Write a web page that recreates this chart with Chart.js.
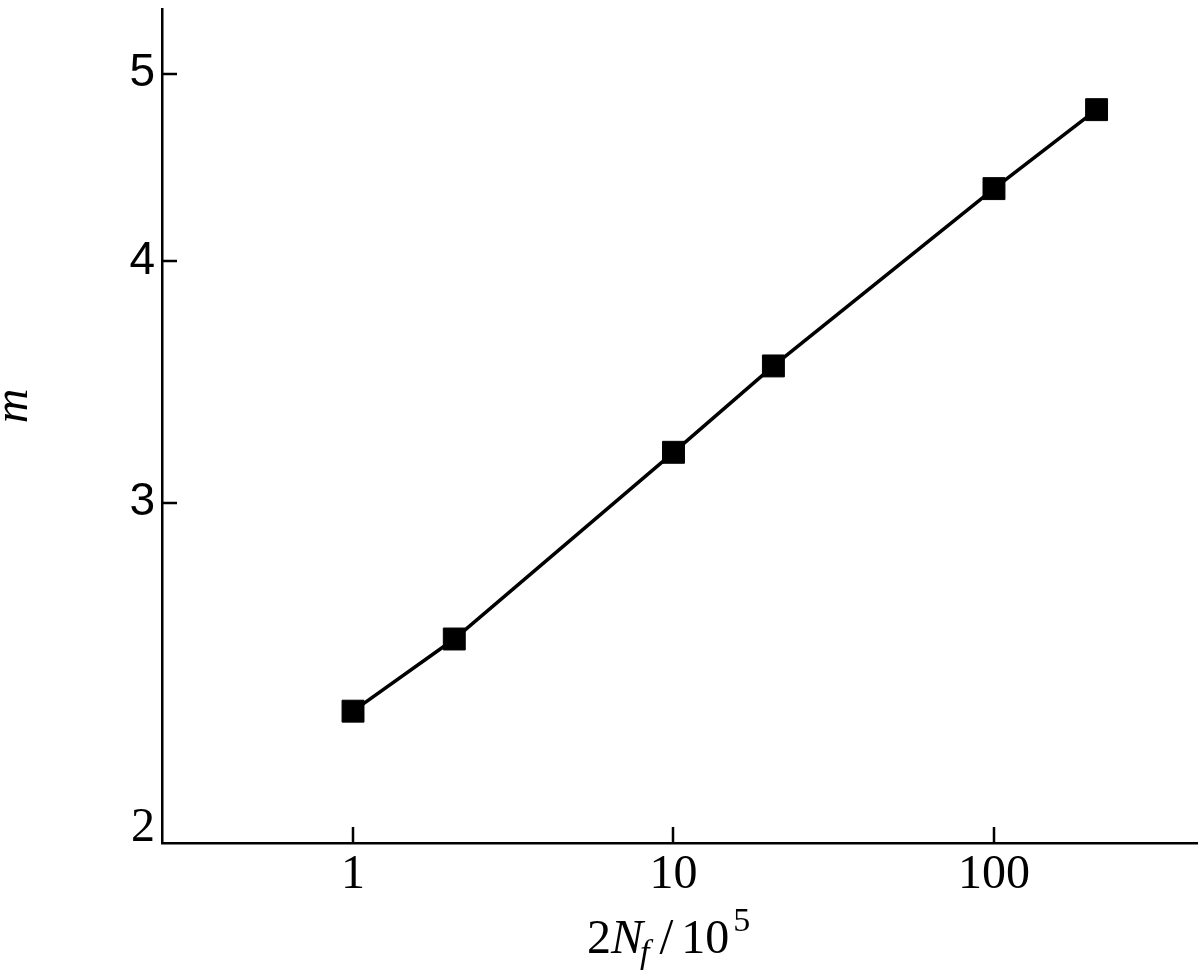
<!DOCTYPE html>
<html>
<head>
<meta charset="utf-8">
<script src="https://cdn.jsdelivr.net/npm/chart.js@4.4.1/dist/chart.umd.min.js"></script>
<style>
  html, body { margin: 0; padding: 0; background: #fff; }
  #wrap { width: 1200px; height: 980px; position: relative; }
</style>
</head>
<body>
<div id="wrap"><canvas id="chart" width="1200" height="980"></canvas></div>
<script>
// data (log-log plot)
var cycles = [1, 2.07, 10, 20.5, 100, 209];      // 2Nf / 10^5
var mValues = [2.34, 2.55, 3.185, 3.53, 4.36, 4.79];
var xTicks = [1, 10, 100];
var yTicks = [2, 3, 4, 5];

var serif = '"Liberation Serif", serif';
var sans = '"Liberation Sans Narrow", "Liberation Sans", sans-serif';

// small inward tick marks plus the two axis titles
var axisExtras = {
    id: 'axisExtras',
    afterDraw: function(chart) {
        var ctx = chart.ctx;
        var area = chart.chartArea;
        var xs = chart.scales.x;
        var ys = chart.scales.y;
        ctx.save();
        ctx.strokeStyle = '#000';
        ctx.lineWidth = 2.5;
        ctx.beginPath();
        xTicks.forEach(function(v) {
            var px = Math.round(xs.getPixelForValue(v));
            ctx.moveTo(px, area.bottom);
            ctx.lineTo(px, area.bottom - 16);
        });
        yTicks.forEach(function(v) {
            if (v === 2) return;
            var py = Math.round(ys.getPixelForValue(v));
            ctx.moveTo(area.left, py);
            ctx.lineTo(area.left + 15, py);
        });
        ctx.stroke();

        // x title: 2N_f / 10^5
        ctx.fillStyle = '#000';
        ctx.textBaseline = 'alphabetic';
        ctx.textAlign = 'left';
        var parts = [
            { t: '2', f: '48px ' + serif, dy: 0, gap: 0 },
            { t: 'N', f: 'italic 48px ' + serif, dy: 0, gap: 0 },
            { t: 'f', f: 'italic 34px ' + serif, dy: 10, gap: -3 },
            { t: '/', f: '50px ' + serif, dy: 0, gap: 10 },
            { t: '10', f: '48px ' + serif, dy: 0, gap: 8 },
            { t: '5', f: '34px ' + serif, dy: -22, gap: 4 }
        ];
        var x = 587;
        var base = 953;
        parts.forEach(function(p) {
            ctx.font = p.f;
            x += p.gap;
            ctx.fillText(p.t, x, base + p.dy);
            x += ctx.measureText(p.t).width;
        });

        // y title: m
        ctx.save();
        ctx.translate(27, 406);
        ctx.rotate(-Math.PI / 2);
        ctx.textAlign = 'center';
        ctx.font = 'italic 48px ' + serif;
        ctx.fillText('m', 0, 0);
        ctx.restore();
        ctx.restore();
    }
};

function noPadding(scale) {
    scale.paddingLeft = 0;
    scale.paddingRight = 0;
    scale.paddingTop = 0;
    scale.paddingBottom = 0;
}

var ctx = document.getElementById('chart').getContext('2d');
var chart = new Chart(ctx, {
    type: 'scatter',
    data: {
        datasets: [{
            data: cycles.map(function(c, i) { return { x: c, y: mValues[i] }; }),
            showLine: true,
            clip: false,
            borderColor: '#000',
            borderWidth: 3.5,
            backgroundColor: '#000',
            pointStyle: 'rect',
            pointRadius: 15.5,
            pointHoverRadius: 15.5,
            pointBorderWidth: 1,
            pointBackgroundColor: '#000',
            pointBorderColor: '#000'
        }]
    },
    options: {
        responsive: false,
        animation: false,
        layout: { autoPadding: false, padding: { top: 9, right: 3, left: 0, bottom: 0 } },
        plugins: {
            legend: { display: false },
            tooltip: { enabled: false }
        },
        scales: {
            x: {
                type: 'logarithmic',
                min: 0.2535,
                max: 430,
                afterFit: function(scale) { scale.height = 137; noPadding(scale); },
                afterBuildTicks: function(scale) {
                    scale.ticks = xTicks.map(function(v) { return { value: v }; });
                },
                grid: { display: false, drawTicks: false },
                border: { display: true, color: '#000', width: 2.5 },
                ticks: {
                    autoSkip: false,
                    maxRotation: 0,
                    padding: 4,
                    color: '#000',
                    font: { family: serif, size: 48 },
                    callback: function(v) { return String(v); }
                }
            },
            y: {
                type: 'logarithmic',
                min: 2,
                max: 5.40,
                afterFit: function(scale) { scale.width = 162; noPadding(scale); },
                afterBuildTicks: function(scale) {
                    scale.ticks = yTicks.map(function(v) { return { value: v }; });
                },
                grid: { display: false, drawTicks: false },
                border: { display: true, color: '#000', width: 2.5 },
                ticks: {
                    autoSkip: false,
                    padding: 7,
                    color: '#000',
                    font: function(c) {
                        if (c.index === 0) {
                            return { family: serif, size: 48, lineHeight: 0.6 };
                        }
                        return { family: sans, size: 46 };
                    },
                    // the bottom label sits a little above the axis corner
                    callback: function(v) { return v === 2 ? ['2', ''] : String(v); }
                }
            }
        }
    },
    plugins: [axisExtras]
});
</script>
</body>
</html>
